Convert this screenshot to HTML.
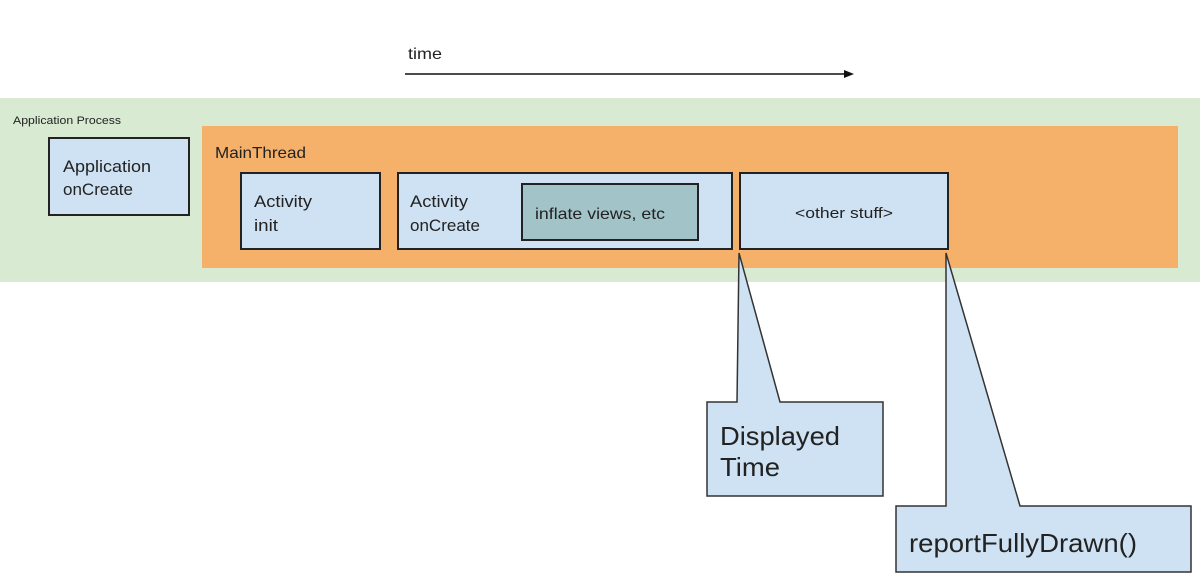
<!DOCTYPE html>
<html><head><meta charset="utf-8"><style>
html,body{margin:0;padding:0;background:#fff;}
svg{display:block;}
text{font-family:"Liberation Sans",sans-serif;fill:#222;}
</style></head><body>
<svg width="1200" height="574" viewBox="0 0 1200 574" xmlns="http://www.w3.org/2000/svg">
<rect x="0" y="0" width="1200" height="574" fill="#fff"/>
<text x="408" y="59" font-size="16" textLength="34" lengthAdjust="spacingAndGlyphs">time</text>
<line x1="405" y1="74" x2="846" y2="74" stroke="#111" stroke-width="1.5"/>
<polygon points="844,70 854,74 844,78" fill="#111"/>
<rect x="0" y="98" width="1200" height="184" fill="#d9ead3"/>
<text x="13" y="124" font-size="11" fill="#333" textLength="108" lengthAdjust="spacingAndGlyphs">Application Process</text>
<rect x="202" y="126" width="976" height="142" fill="#f5b06a"/>
<text x="215" y="158" font-size="16" fill="#333" textLength="91" lengthAdjust="spacingAndGlyphs">MainThread</text>
<g stroke="#222" stroke-width="2" fill="#cfe2f3">
<rect x="49" y="138" width="140" height="77"/>
<rect x="241" y="173" width="139" height="76"/>
<rect x="398" y="173" width="334" height="76"/>
<rect x="522" y="184" width="176" height="56" fill="#a2c4c9"/>
<rect x="740" y="173" width="208" height="76"/>
</g>
<g font-size="17" lengthAdjust="spacingAndGlyphs">
<text x="63" y="172" textLength="88" lengthAdjust="spacingAndGlyphs">Application</text><text x="63" y="195" textLength="70" lengthAdjust="spacingAndGlyphs">onCreate</text>
<text x="254" y="207" textLength="58" lengthAdjust="spacingAndGlyphs">Activity</text><text x="254" y="231" textLength="24" lengthAdjust="spacingAndGlyphs">init</text>
<text x="410" y="207" textLength="58" lengthAdjust="spacingAndGlyphs">Activity</text><text x="410" y="231" textLength="70" lengthAdjust="spacingAndGlyphs">onCreate</text>
<text x="535" y="219" font-size="16" textLength="130" lengthAdjust="spacingAndGlyphs">inflate views, etc</text>
<text x="795" y="218" font-size="15" textLength="98" lengthAdjust="spacingAndGlyphs">&lt;other stuff&gt;</text>
</g>
<g stroke="#333" stroke-width="1.5" fill="#cfe2f3">
<polygon points="707,402 737,402 739,253 780,402 883,402 883,496 707,496"/>
<polygon points="896,506 946,506 946,253 1020,506 1191,506 1191,572 896,572"/>
</g>
<text x="720" y="445" font-size="26" textLength="120" lengthAdjust="spacingAndGlyphs">Displayed</text>
<text x="720" y="476" font-size="26" textLength="60" lengthAdjust="spacingAndGlyphs">Time</text>
<text x="909" y="552" font-size="26" textLength="228" lengthAdjust="spacingAndGlyphs">reportFullyDrawn()</text>
</svg>
</body></html>
